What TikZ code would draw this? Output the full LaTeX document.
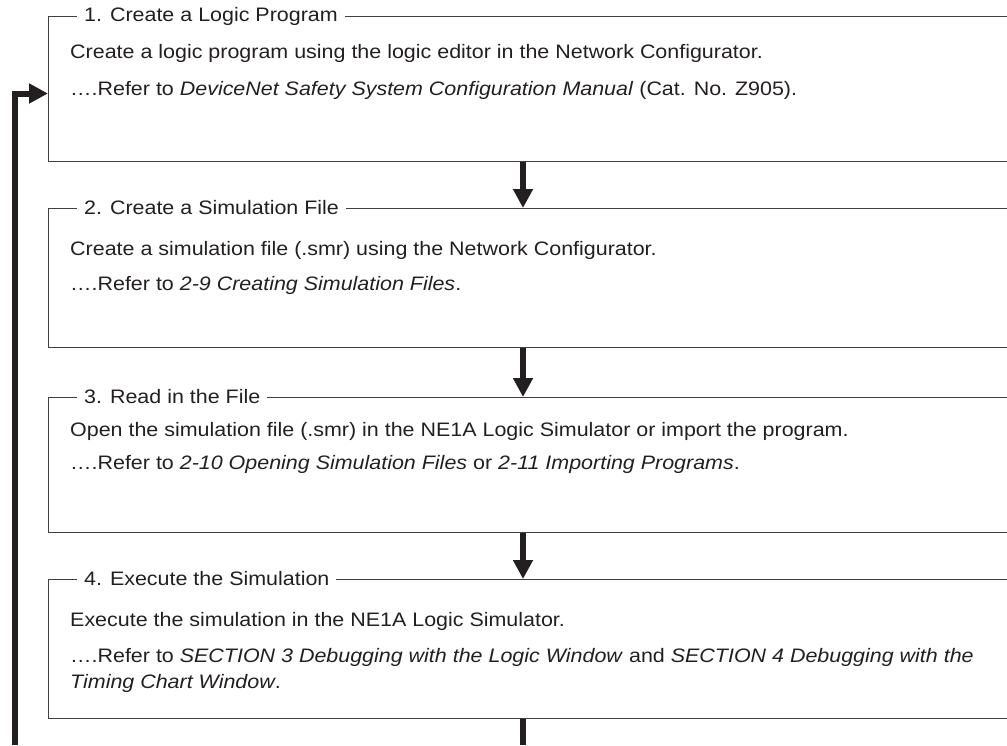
\documentclass[tikz,border=0pt]{standalone}
\usepackage{fontspec}
\setmainfont{Liberation Sans}[FakeStretch=1.1]
\usetikzlibrary{arrows.meta,positioning}

\definecolor{ink}{HTML}{231F20}
\tikzset{
  stage/.style={draw=black!75, line width=1pt, anchor=north west, inner sep=0pt, minimum width=975pt},
  stagetitle/.style={fill=white, anchor=west, inner xsep=7pt, inner ysep=1pt},
  stagetext/.style={anchor=west, inner sep=0pt},
  flowline/.style={draw=ink, line width=6pt},
  flow/.style={flowline, -{Triangle[length=19pt,width=19pt]}},
}

\begin{document}
\begin{tikzpicture}[x=1pt,y=-1pt,font=\fontsize{19.5}{23}\selectfont,color=ink]
    \useasboundingbox (0,0) rectangle (1007,745);
    \clip (0,0) rectangle (1007,745);

    % the four steps
    \node[stage,minimum height=145pt] (box1) at (48,16) {};
    \node[stage,minimum height=139pt] (box2) at (48,208) {};
    \node[stage,minimum height=135pt] (box3) at (48,397) {};
    \node[stage,minimum height=139pt] (box4) at (48,579) {};

    \node[stagetitle] (title1) at ([xshift=29pt]box1.north west) {1. Create a Logic Program};
    \node[stagetext] (text11) at ([xshift=22pt,yshift=-37pt]box1.north west) {Create a logic program using the logic editor in the Network Configurator.};
    \node[stagetext] (text12) at ([xshift=22pt,yshift=-74pt]box1.north west) {….Refer to \textit{DeviceNet Safety System Configuration Manual} (Cat. No. Z905).};

    \node[stagetitle] (title2) at ([xshift=29pt]box2.north west) {2. Create a Simulation File};
    \node[stagetext] (text21) at ([xshift=22pt,yshift=-42pt]box2.north west) {Create a simulation file (.smr) using the Network Configurator.};
    \node[stagetext] (text22) at ([xshift=22pt,yshift=-77pt]box2.north west) {….Refer to \textit{2-9 Creating Simulation Files}.};

    \node[stagetitle] (title3) at ([xshift=29pt]box3.north west) {3. Read in the File};
    \node[stagetext] (text31) at ([xshift=22pt,yshift=-34pt]box3.north west) {Open the simulation file (.smr) in the NE1A Logic Simulator or import the program.};
    \node[stagetext] (text32) at ([xshift=22pt,yshift=-67pt]box3.north west) {….Refer to \textit{2-10 Opening Simulation Files} or \textit{2-11 Importing Programs}.};

    \node[stagetitle] (title4) at ([xshift=29pt]box4.north west) {4. Execute the Simulation};
    \node[stagetext] (text41) at ([xshift=22pt,yshift=-42pt]box4.north west) {Execute the simulation in the NE1A Logic Simulator.};
    \node[stagetext] (text42) at ([xshift=22pt,yshift=-78pt]box4.north west) {….Refer to \textit{SECTION 3 Debugging with the Logic Window} and \textit{SECTION 4 Debugging with the}};
    \node[stagetext] (text43) at ([xshift=22pt,yshift=-104pt]box4.north west) {\textit{Timing Chart Window}.};

    % connectors
    \coordinate (midx) at (523,0);
    \coordinate (loopfoot) at (15,745);
    \draw[flow] (box1.south -| midx) -- (box2.north -| midx);
    \draw[flow] (box2.south -| midx) -- (box3.north -| midx);
    \draw[flow] (box3.south -| midx) -- (box4.north -| midx);
    \draw[flowline] (box4.south -| midx) -- (midx |- loopfoot);
    \draw[flow] (loopfoot) |- ([yshift=-4.5pt]box1.west);
\end{tikzpicture}
\end{document}
